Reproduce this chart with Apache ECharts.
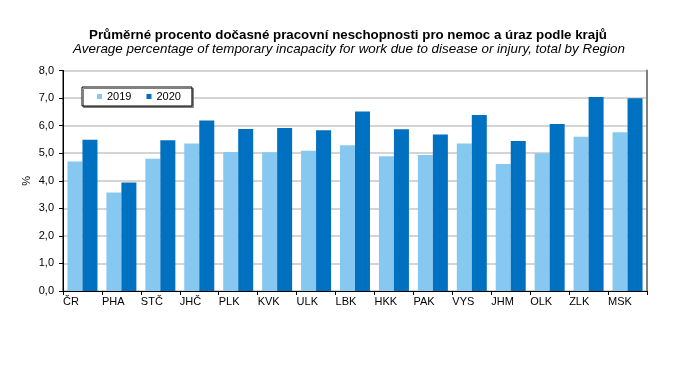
<!DOCTYPE html>
<html>
<head>
<meta charset="utf-8">
<script src="https://cdn.jsdelivr.net/npm/echarts@6/dist/echarts.min.js"></script>
<style>html,body{margin:0;padding:0;background:#fff}#c{width:691px;height:368px}</style>
</head>
<body>
<div id="c"></div>
<script>
const categories = ['ČR','PHA','STČ','JHČ','PLK','KVK','ULK','LBK','HKK','PAK','VYS','JHM','OLK','ZLK','MSK'];
const values2019 = [4.7,3.57,4.8,5.35,5.04,5.03,5.09,5.29,4.89,4.93,5.35,4.61,5.0,5.6,5.76];
const values2020 = [5.49,3.94,5.47,6.19,5.88,5.91,5.83,6.51,5.87,5.68,6.39,5.44,6.06,7.04,6.99];
const seriesNames = ['2019','2020'];
const yTicks = {min:0, max:8, interval:1};
const titleCz = 'Průměrné procento dočasné pracovní neschopnosti pro nemoc a úraz podle krajů';
const titleEn = 'Average percentage of temporary incapacity for work due to disease or injury, total by Region';

const FONT = '"Liberation Sans", Arial, sans-serif';
const chart = echarts.init(document.getElementById('c'), null, {renderer:'canvas'});
chart.setOption({
  animation:false,
  textStyle:{fontFamily:FONT},
  title:[
    {text:titleCz, left:343, top:24, textAlign:'center',
     textStyle:{fontFamily:FONT, fontSize:13.3, fontWeight:'bold', color:'#000'}},
    {text:titleEn, left:344, top:38, textAlign:'center',
     textStyle:{fontFamily:FONT, fontSize:13.4, fontStyle:'italic', fontWeight:'normal', color:'#000'}}
  ],
  legend:{
    data:seriesNames, left:82, top:87, orient:'horizontal',
    itemWidth:5, itemHeight:5, itemGap:15, icon:'rect',
    padding:[4,11,4,15],
    backgroundColor:'#fff', borderColor:'#000', borderWidth:1,
    shadowColor:'#808080', shadowOffsetX:1.5, shadowOffsetY:1.5, shadowBlur:0,
    textStyle:{fontFamily:FONT, fontSize:11, color:'#000', padding:[0,0,0,0]}
  },
  grid:{left:63, right:44, top:70.5, bottom:77, show:true, borderColor:'#000', borderWidth:1, backgroundColor:'transparent'},
  xAxis:[
    {type:'category', data:categories, position:'bottom',
     axisLine:{show:true, lineStyle:{color:'#000', width:1}},
     axisTick:{show:false}, axisLabel:{show:false}, splitLine:{show:false}},
    {type:'category', data:categories.concat(['']), position:'bottom', boundaryGap:false,
     axisLine:{show:false},
     axisTick:{show:true, length:4, interval:0, lineStyle:{color:'#000'}},
     axisLabel:{show:true, interval:0, align:'left', margin:5, fontFamily:FONT, fontSize:11, color:'#000'},
     splitLine:{show:false}}
  ],
  yAxis:[
    {type:'value', min:yTicks.min, max:yTicks.max, interval:yTicks.interval,
     name:'%', nameLocation:'middle', nameRotate:90, nameGap:31, nameMoveOverlap:false,
     nameTextStyle:{fontFamily:FONT, fontSize:11, color:'#000'},
     axisLine:{show:true, lineStyle:{color:'#000'}},
     axisTick:{show:true, length:4, lineStyle:{color:'#000'}},
     axisLabel:{margin:9, fontFamily:FONT, fontSize:11, color:'#000',
       formatter:v=>v.toFixed(1).replace('.',',')},
     splitLine:{show:true, lineStyle:{color:'#d4d4d4', width:2}}},
    {type:'value', min:yTicks.min, max:yTicks.max, interval:yTicks.interval, position:'right',
     axisLine:{show:true, lineStyle:{color:'#808080', width:2}},
     axisTick:{show:false}, axisLabel:{show:false}, splitLine:{show:false}}
  ],
  series:[
    {name:seriesNames[0], type:'bar', data:values2019, xAxisIndex:0, yAxisIndex:0,
     barWidth:15, barGap:'0%', itemStyle:{color:'#87c8f0'}},
    {name:seriesNames[1], type:'bar', data:values2020, xAxisIndex:0, yAxisIndex:0,
     barWidth:15, barGap:'0%', itemStyle:{color:'#0070c0'}}
  ]
});
</script>
</body>
</html>
